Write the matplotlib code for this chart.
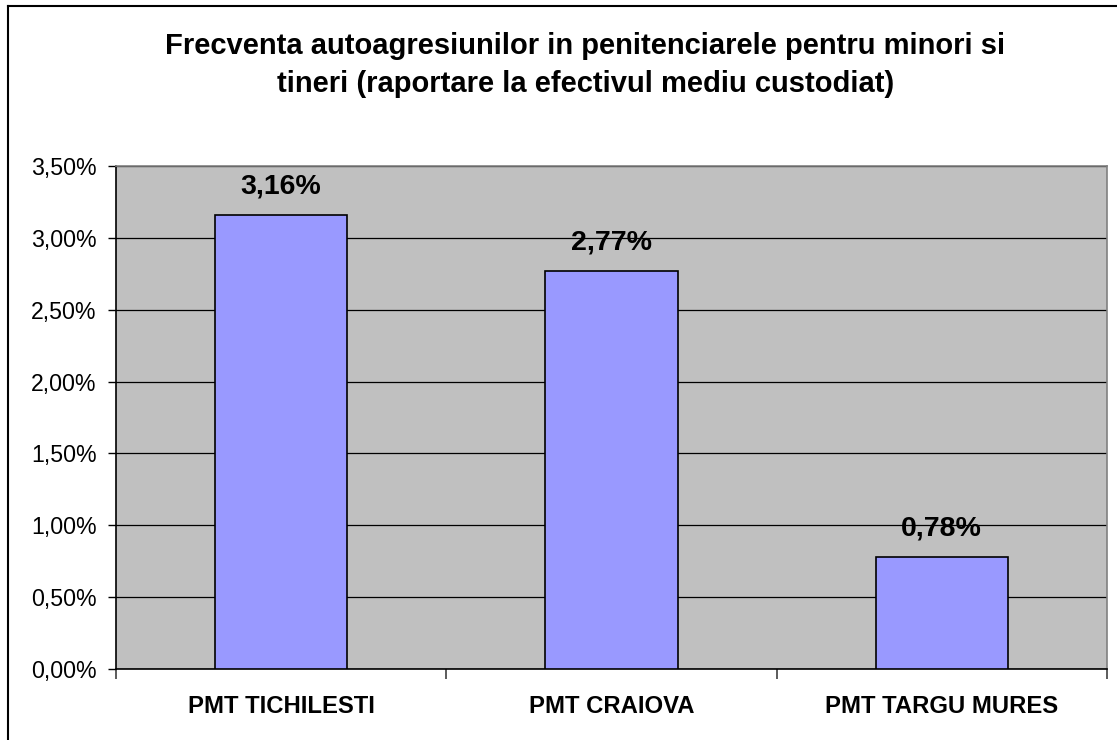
import matplotlib

matplotlib.use("Agg")
import matplotlib.pyplot as plt
from matplotlib.lines import Line2D
from matplotlib.ticker import FuncFormatter, MultipleLocator

plt.rcParams["font.family"] = ["Liberation Sans", "DejaVu Sans"]

categories = ["PMT TICHILESTI", "PMT CRAIOVA", "PMT TARGU MURES"]
values = [3.16, 2.77, 0.78]
title = "Frecventa autoagresiunilor in penitenciarele pentru minori si\ntineri (raportare la efectivul mediu custodiat)"


def pct(v, _pos=None):
    return f"{v:.2f}%".replace(".", ",")


fig = plt.figure(figsize=(11.17, 7.40), dpi=100)
ax = fig.add_axes([0.1039, 0.0959, 0.8871, 0.6798])
ax.set_facecolor("#C0C0C0")

x = list(range(len(categories)))
ax.bar(x, values, width=0.40, color="#9999FF", edgecolor="black", linewidth=1.2, zorder=3)
for xi, v in zip(x, values):
    ax.text(xi, v + 0.11, pct(v), ha="center", va="bottom", fontsize=20.5, fontweight="bold", zorder=4)

ax.set_xlim(-0.5, len(categories) - 0.5)
ax.set_ylim(0, 3.5)
ax.yaxis.set_major_locator(MultipleLocator(0.5))
ax.yaxis.set_major_formatter(FuncFormatter(pct))
ax.grid(axis="y", color="black", linewidth=0.9, zorder=1)
ax.set_axisbelow(True)

ax.set_xticks(x)
ax.set_xticklabels(categories, fontsize=17.2, fontweight="bold")
ax.set_xticks([i - 0.5 for i in range(len(categories) + 1)], minor=True)
ax.tick_params(axis="x", which="major", length=0, pad=19)
ax.tick_params(axis="x", which="minor", length=7, width=1.2, color="#404040")
ax.tick_params(axis="y", length=6, width=1, labelsize=16.7, pad=8)

for side in ("top", "right"):
    ax.spines[side].set_color("#808080")
    ax.spines[side].set_linewidth(1.2)
for side in ("left", "bottom"):
    ax.spines[side].set_color("black")
    ax.spines[side].set_linewidth(1.2)

fig.text(0.524, 0.912, title, ha="center", va="center", fontsize=21,
         fontweight="bold", linespacing=1.45)

# outer chart frame (left and top edges visible)
fig.add_artist(Line2D([8 / 1117, 8 / 1117], [0, 1 - 6 / 740], color="black", linewidth=1.5))
fig.add_artist(Line2D([8 / 1117, 1], [1 - 6 / 740, 1 - 6 / 740], color="black", linewidth=1.5))

fig.savefig("out.png", dpi=100)
